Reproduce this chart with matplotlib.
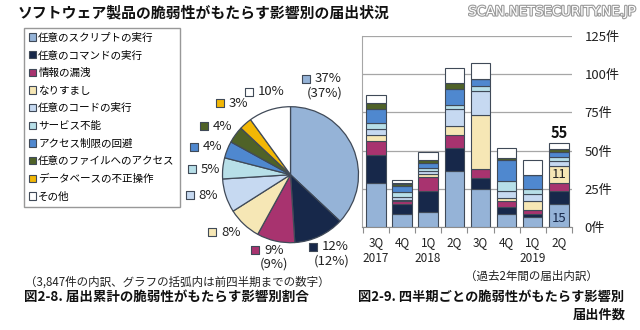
import matplotlib
matplotlib.use("Agg")
import matplotlib.pyplot as plt
import matplotlib.patheffects as pe
from matplotlib.patches import Patch
import numpy as np

plt.rcParams['font.family'] = ['Noto Sans CJK JP', 'DejaVu Sans']

# ---------------- data ----------------
categories = ["任意のスクリプトの実行", "任意のコマンドの実行", "情報の漏洩", "なりすまし",
              "任意のコードの実行", "サービス不能", "アクセス制限の回避",
              "任意のファイルへのアクセス", "データベースの不正操作", "その他"]
pie_pct = [37, 12, 9, 8, 8, 5, 4, 4, 3, 10]
pie_prev = {0: "(37%)", 1: "(12%)", 2: "(9%)"}

quarters = ["3Q\n2017", "4Q", "1Q\n2018", "2Q", "3Q", "4Q", "1Q\n2019", "2Q"]
# stacked counts per category (bottom -> top), one value per quarter
script_v  = [29, 9, 10, 37, 25, 9, 7, 15]
command_v = [18, 6, 14, 15, 7, 4, 2, 9]
leak_v    = [9, 2, 9, 8, 6, 4, 2, 5]
spoof_v   = [4, 1, 2, 6, 35, 2, 6, 11]
code_v    = [4, 2, 2, 11, 16, 5, 5, 3]
dos_v     = [4, 3, 2, 3, 3, 6, 3, 3]
access_v  = [9, 4, 3, 10, 5, 14, 9, 3]
file_v    = [4, 1, 2, 4, 0, 1, 0, 2]
db_v      = [0, 1, 0, 0, 0, 0, 0, 0]
other_v   = [5, 2, 5, 10, 10, 7, 10, 4]
series = [script_v, command_v, leak_v, spoof_v, code_v, dos_v, access_v, file_v, db_v, other_v]
yticks = [0, 25, 50, 75, 100, 125]

colors = ["#95b3d7", "#17284a", "#a8336f", "#f6e7b5", "#c6d9f1",
          "#b7dfe8", "#4f88cf", "#4f6228", "#f2b705", "#ffffff"]
edge = "#404a58"

W, H = 640, 330
fig = plt.figure(figsize=(W / 100, H / 100), dpi=100)

def fx(x):
    return x / W

def fy(y):
    return 1 - y / H

# ---------------- titles / texts ----------------
fig.text(fx(18), fy(12), "ソフトウェア製品の脆弱性がもたらす影響別の届出状況",
         fontsize=10.7, fontweight='bold', va='center', ha='left', color='#111111')
fig.text(fx(635), fy(12), "SCAN.NETSECURITY.NE.JP", fontsize=9.5, ha='right', va='center',
         color='white', path_effects=[pe.withStroke(linewidth=1.6, foreground='#9a9a9a')],
         family=['DejaVu Sans'])
fig.text(fx(25), fy(282), "（3,847件の内訳、グラフの括弧内は前四半期までの数字）",
         fontsize=8.3, ha='left', va='center', color='#222222')
fig.text(fx(24), fy(298), "図2-8. 届出累計の脆弱性がもたらす影響別割合",
         fontsize=9.7, fontweight='bold', ha='left', va='center', color='#111111')
fig.text(fx(598), fy(276), "（過去2年間の届出内訳）", fontsize=8.3, ha='right', va='center',
         color='#222222')
fig.text(fx(358), fy(297), "図2-9. 四半期ごとの脆弱性がもたらす影響別",
         fontsize=9.5, fontweight='bold', ha='left', va='center', color='#111111')
fig.text(fx(626), fy(315), "届出件数", fontsize=9.5, fontweight='bold', ha='right',
         va='center', color='#111111')

# ---------------- legend ----------------
handles = [Patch(facecolor=c, edgecolor=edge, linewidth=0.8) for c in colors]
leg = fig.legend(handles, categories, loc='upper left',
                 bbox_to_anchor=(fx(24), fy(28)), fontsize=7.6, frameon=True,
                 fancybox=False, handlelength=0.7, handleheight=0.7, handletextpad=0.2,
                 labelspacing=0.72, borderpad=0.45, borderaxespad=0.0)
leg.get_frame().set_edgecolor('#7f7f7f')
leg.get_frame().set_linewidth(1.0)

# ---------------- pie ----------------
cx, cy, R = 290.5, 174.7, 68
l, r, t, b = 1.6, 1.3, 1.5, 1.4
axp = fig.add_axes([fx(cx - l * R), fy(cy + b * R), (l + r) * R / W, (t + b) * R / H])
axp.pie(pie_pct, colors=colors, startangle=90, counterclock=False, radius=1,
        wedgeprops=dict(edgecolor=edge, linewidth=0.9))
axp.set_xlim(-l, r)
axp.set_ylim(-b, t)
axp.set_aspect('equal', adjustable='box')
axp.axis('off')

# label anchor (square marker) positions in pie radius units
label_pos = [(0.23, 1.41), (0.33, -1.06), (-0.52, -1.11), (-1.15, -0.85), (-1.48, -0.30),
             (-1.45, 0.08), (-1.42, 0.41), (-1.27, 0.71), (-1.04, 1.05), (-0.61, 1.22)]
for i, (p, c) in enumerate(zip(pie_pct, colors)):
    px, py = label_pos[i]
    axp.scatter([px], [py], s=28, marker='s', color=c, edgecolor=edge, linewidth=0.8,
                zorder=5, clip_on=False)
    axp.text(px + 0.13, py, f"{p}%", fontsize=9.5, ha='left', va='center',
             color='#222222', clip_on=False)
    if i in pie_prev:
        axp.text(px + 0.28, py - 0.21, pie_prev[i], fontsize=9.5, ha='center', va='center',
                 color='#222222', clip_on=False)

# ---------------- stacked bars ----------------
x0, x1, ytop, ybot = 362, 572, 35.7, 227.3
axb = fig.add_axes([fx(x0), fy(ybot), (x1 - x0) / W, (ybot - ytop) / H])
x = np.arange(len(quarters))
bottom = np.zeros(len(quarters))
for vals, c in zip(series, colors):
    v = np.array(vals, dtype=float)
    axb.bar(x, v, bottom=bottom, width=0.74, color=c, edgecolor=edge, linewidth=0.8,
            zorder=3)
    bottom += v
totals = bottom
axb.set_xlim(-0.53, 7.47)
axb.set_ylim(0, 125)
axb.set_yticks(yticks)
axb.set_yticklabels([f"{v}件" for v in yticks], fontsize=9.5, color='#222222')
axb.yaxis.tick_right()
axb.tick_params(axis='y', length=0, pad=9)
axb.set_xticks(x)
axb.set_xticklabels(quarters, fontsize=8.5, color='#222222', linespacing=1.35)
axb.tick_params(axis='x', which='major', length=0, pad=6)
axb.set_xticks(np.arange(-0.5, len(quarters), 1.0), minor=True)
axb.tick_params(axis='x', which='minor', length=4, color='#8c8c8c', width=0.8)
axb.grid(axis='y', color='#a6a6a6', linewidth=0.9, zorder=0)
for s in ['top', 'right']:
    axb.spines[s].set_visible(False)
axb.spines['left'].set_color('#a6a6a6')
axb.spines['bottom'].set_color('#8c8c8c')

last = len(quarters) - 1
axb.text(x[last], totals[last] + 1.5, f"{int(totals[last])}", ha='center', va='bottom',
         fontsize=10.5, fontweight='bold', color='#111111')
axb.text(x[last], script_v[last] * 0.38, f"{script_v[last]}", ha='center', va='center',
         fontsize=9.5, color='#17284a', zorder=5)
sp_base = script_v[last] + command_v[last] + leak_v[last]
axb.text(x[last], sp_base + spoof_v[last] / 2, f"{spoof_v[last]}", ha='center', va='center',
         fontsize=9.5, color='#222222', zorder=5)

fig.savefig("out.png", dpi=100)
